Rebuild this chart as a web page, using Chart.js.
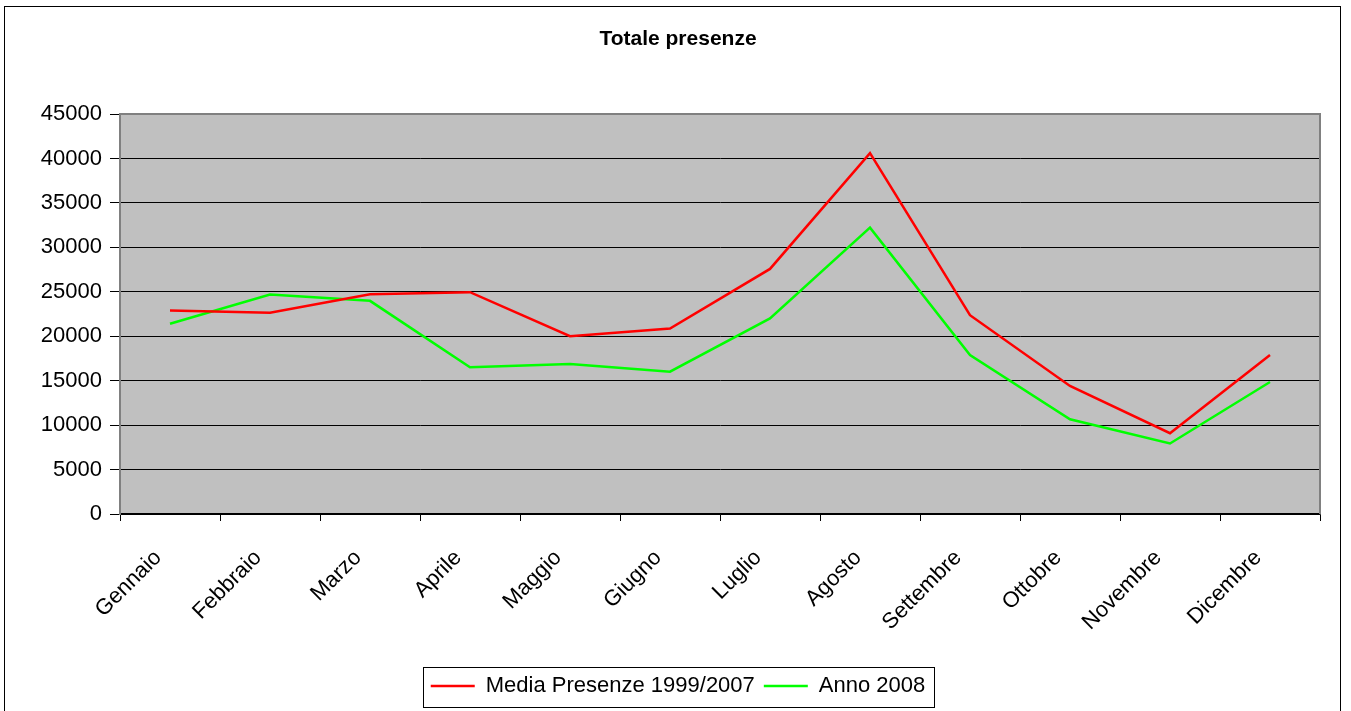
<!DOCTYPE html>
<html>
<head>
<meta charset="utf-8">
<script src="https://cdn.jsdelivr.net/npm/chart.js@4"></script>
<style>
  html, body { margin: 0; padding: 0; background: #fff; }
  #wrap { width: 1351px; height: 711px; position: relative; }
</style>
</head>
<body>
<div id="wrap"><canvas id="c"></canvas></div>
<script>
// Totale presenze: media 1999/2007 contro anno 2008
const mesi = ["Gennaio", "Febbraio", "Marzo", "Aprile", "Maggio", "Giugno",
  "Luglio", "Agosto", "Settembre", "Ottobre", "Novembre", "Dicembre"];
const mediaPresenze = [22900, 22630, 24720, 24950, 20010, 20870, 27570, 40590, 22370, 14400, 9090, 17880];
const anno2008 = [21400, 24690, 23980, 16500, 16870, 16010, 22000, 32210, 17880, 10660, 7930, 14850];
const yMax = 45000;
const yStep = 5000;

const FONT = "Arial, 'Liberation Sans', sans-serif";

// sfondo grigio dell'area e cornici
const frame = {
  id: "frame",
  beforeDraw(chart) {
    const { ctx, chartArea: a } = chart;
    ctx.save();
    ctx.fillStyle = "#c0c0c0";
    ctx.fillRect(a.left, a.top, a.right - a.left, a.bottom - a.top);
    ctx.restore();
  },
  afterDatasetsDraw(chart) {
    const { ctx, chartArea: a } = chart;
    ctx.save();
    ctx.strokeStyle = "#808080";
    ctx.lineWidth = 2;
    ctx.beginPath();
    ctx.moveTo(a.left, a.top);
    ctx.lineTo(a.right, a.top);
    ctx.lineTo(a.right, a.bottom);
    ctx.stroke();
    ctx.restore();
  },
  afterDraw(chart) {
    const { ctx } = chart;
    ctx.save();
    ctx.strokeStyle = "#000";
    ctx.lineWidth = 1;
    ctx.strokeRect(4.5, 6.5, 1336, 720);
    // bordo della legenda
    const boxes = chart.legend.legendHitBoxes;
    if (boxes && boxes.length) {
      const l = Math.round(Math.min(...boxes.map((b) => b.left)));
      const r = Math.round(Math.max(...boxes.map((b) => b.left + b.width)));
      ctx.strokeRect(l - 7.5, 667.5, r - l + 17, 40);
    }
    ctx.restore();
  },
};

new Chart(document.getElementById("c"), {
  type: "line",
  data: {
    labels: mesi,
    datasets: [
      { label: "Media Presenze 1999/2007", data: mediaPresenze, borderColor: "#ff0000", backgroundColor: "#ff0000", borderWidth: 2.5, pointRadius: 0, tension: 0 },
      { label: "Anno 2008", data: anno2008, borderColor: "#00ff00", backgroundColor: "#00ff00", borderWidth: 2.5, pointRadius: 0, tension: 0 },
    ],
  },
  options: {
    responsive: true,
    maintainAspectRatio: false,
    animation: false,
    layout: { padding: { left: 36, right: 31, top: 0, bottom: 4 } },
    plugins: {
      title: {
        display: true,
        text: "Totale presenze",
        color: "#000",
        font: { family: FONT, size: 21, weight: "bold" },
        padding: { top: 27, bottom: 61.8 },
      },
      legend: {
        position: "bottom",
        labels: {
          color: "#000",
          font: { family: FONT, size: 22 },
          boxWidth: 44,
          boxHeight: 2.5,
          padding: 9,
          generateLabels: (chart) =>
            Chart.defaults.plugins.legend.labels.generateLabels(chart).map((it) => ({ ...it, lineWidth: 0 })),
        },
      },
      tooltip: { enabled: false },
    },
    scales: {
      x: {
        offset: true,
        grid: { offset: true, drawOnChartArea: false, color: "#000", tickLength: 7 },
        border: { color: "#000", width: 1.5 },
        ticks: {
          color: "#000", font: { family: FONT, size: 22 },
          maxRotation: 45, minRotation: 45, autoSkip: false,
          padding: 24, labelOffset: -12,
        },
        afterFit: (s) => { s.height = 152; },
      },
      y: {
        min: 0,
        max: yMax,
        grid: { color: "#000", lineWidth: 1, tickLength: 10 },
        border: { color: "#808080", width: 2 },
        ticks: {
          stepSize: yStep, color: "#000", font: { family: FONT, size: 22 }, padding: 8,
          callback: (v) => String(v),
        },
        afterFit: (s) => { s.width = 84; },
      },
    },
  },
  plugins: [frame],
});
</script>
</body>
</html>
